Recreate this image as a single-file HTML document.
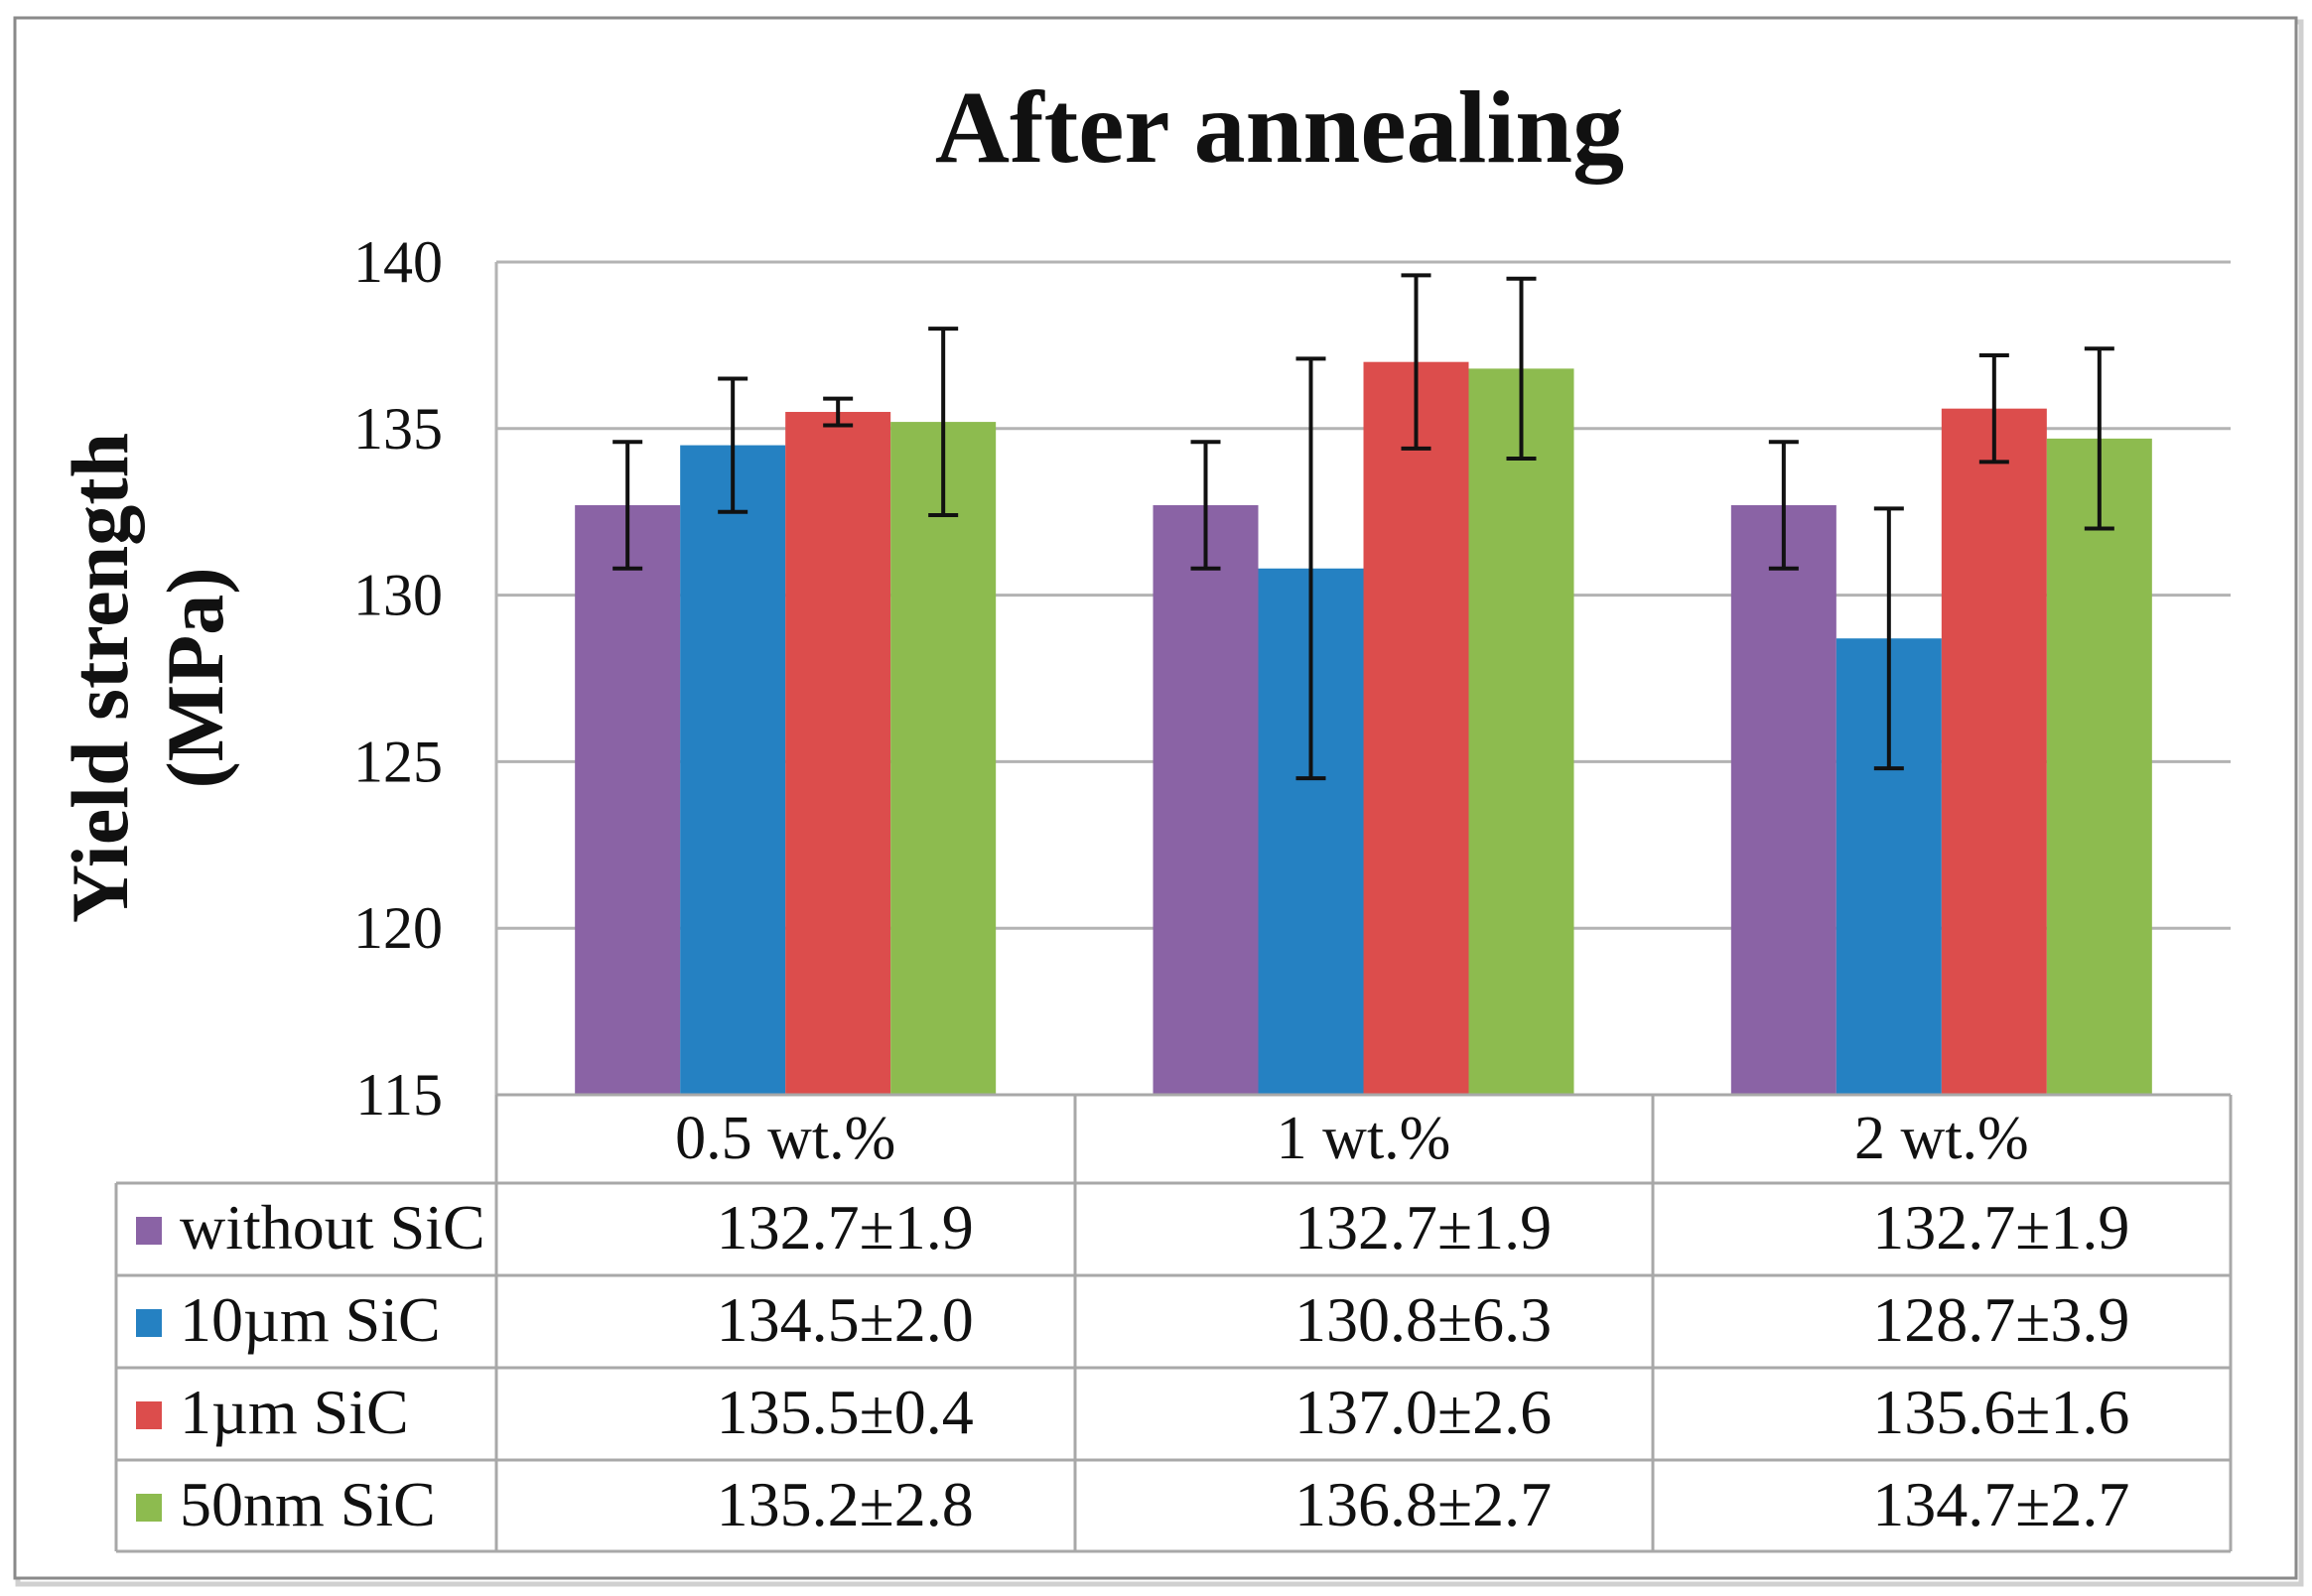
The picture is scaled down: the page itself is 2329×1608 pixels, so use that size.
<!DOCTYPE html>
<html><head><meta charset="utf-8">
<style>
html,body{margin:0;padding:0;background:#fff;}
svg{display:block;}
text{font-family:"Liberation Serif","DejaVu Serif",serif;fill:#111;}
</style></head>
<body>
<svg id="chart" width="2329" height="1608" viewBox="0 0 2329 1608" xmlns="http://www.w3.org/2000/svg">
  <rect x="18" y="22" width="2300" height="1574" fill="none" stroke="#d0d0d0" stroke-width="5"/>
  <rect x="15" y="18" width="2298" height="1572" fill="#fff" stroke="#8a8a8a" stroke-width="3"/>
  <text x="1289" y="163" font-size="104" font-weight="bold" text-anchor="middle">After annealing</text>
  <g transform="translate(104,683) rotate(-90)">
    <text x="0" y="24" font-size="82" font-weight="bold" text-anchor="middle">Yield strength</text>
  </g>
  <g transform="translate(200,683) rotate(-90)">
    <text x="0" y="24" font-size="82" font-weight="bold" text-anchor="middle">(MPa)</text>
  </g>
  <g id="grid"></g>
  <g id="bars"></g>
  <g id="errs"></g>
  <g id="table"></g>
</svg>
<script>
const categories = ["0.5 wt.%", "1 wt.%", "2 wt.%"];
const seriesNames = ["without SiC", "10\u00b5m SiC", "1\u00b5m SiC", "50nm SiC"];
const seriesColors = ["#8a63a5", "#2581c2", "#dc4d4c", "#8dbb4f"];
const withoutSiC = [132.7, 132.7, 132.7];
const withoutSiCErr = [1.9, 1.9, 1.9];
const sic10um = [134.5, 130.8, 128.7];
const sic10umErr = [2.0, 6.3, 3.9];
const sic1um = [135.5, 137.0, 135.6];
const sic1umErr = [0.4, 2.6, 1.6];
const sic50nm = [135.2, 136.8, 134.7];
const sic50nmErr = [2.8, 2.7, 2.7];
const yTicks = [115, 120, 125, 130, 135, 140];

const values = [withoutSiC, sic10um, sic1um, sic50nm];
const errors = [withoutSiCErr, sic10umErr, sic1umErr, sic50nmErr];
const NS = "http://www.w3.org/2000/svg";
const L = 500, R = 2247, T = 264, B = 1103, yMin = 115, yMax = 140;
const catW = (R - L) / categories.length;
const barW = 106;
function y(v){ return B - (v - yMin) / (yMax - yMin) * (B - T); }
function xCat(i){ return L + catW * i; }
function mk(tag, attrs, parent){
  const e = document.createElementNS(NS, tag);
  for (const k in attrs) e.setAttribute(k, attrs[k]);
  parent.appendChild(e); return e;
}
const grid = document.getElementById('grid');
yTicks.forEach(t => {
  const ln = mk('line', {x1:L, x2:R, y1:y(t), y2:y(t), stroke:'#b3b3b3', 'stroke-width':3}, grid);
  
  
  const tx = mk('text', {x:446, y:y(t)+20, 'font-size':60, 'text-anchor':'end'}, grid);
  tx.textContent = t;
  
  
});
const vax = mk('line', {x1:L, x2:L, y1:T, y2:B, stroke:'#b3b3b3', 'stroke-width':3}, grid);



const bars = document.getElementById('bars');
const errs = document.getElementById('errs');
categories.forEach((c, i) => {
  const start = xCat(i) + (catW - barW * 4) / 2;
  values.forEach((s, j) => {
    const x0 = start + j * barW;
    const r = mk('rect', {x:x0, y:y(s[i]), width:barW, height:B - y(s[i]), fill:seriesColors[j]}, bars);
    
    
    const cx = x0 + barW / 2, hi = y(s[i] + errors[j][i]), lo = y(s[i] - errors[j][i]);
    const g = mk('g', {stroke:'#111', 'stroke-width':4}, errs);
    
    
    mk('line', {x1:cx, x2:cx, y1:hi, y2:lo}, g);
    mk('line', {x1:cx-15, x2:cx+15, y1:hi, y2:hi}, g);
    mk('line', {x1:cx-15, x2:cx+15, y1:lo, y2:lo}, g);
  });
});

const tbl = document.getElementById('table');
const rowY = [1103, 1192, 1285, 1378, 1471, 1563];
const colX = [117, 500, 1083, 1665, 2247];
const st = {stroke:'#a8a8a8', 'stroke-width':3};
rowY.forEach((ry, k) => {
  const ln = mk('line', Object.assign({x1: k === 0 ? L : colX[0], x2: R, y1: ry, y2: ry}, st), tbl);
  
  
});
colX.forEach((cx, k) => {
  const ln = mk('line', Object.assign({x1: cx, x2: cx, y1: k === 0 ? rowY[1] : rowY[0], y2: rowY[5]}, st), tbl);
  
  
});
categories.forEach((c, i) => {
  const t = mk('text', {x:xCat(i) + catW/2, y:rowY[0] + 64, 'font-size':62, 'text-anchor':'middle'}, tbl);
  t.textContent = c;
  
  
});
seriesNames.forEach((n, j) => {
  const yy = rowY[j+1];
  const k = mk('rect', {x:137, y:yy + 34, width:26, height:28, fill:seriesColors[j]}, tbl);
  
  
  const t = mk('text', {x:181, y:yy + 66, 'font-size':64}, tbl);
  t.textContent = n;
  
  
  categories.forEach((c, i) => {
    const v = mk('text', {x:xCat(i) + catW/2 + 60, y:yy + 66, 'font-size':64, 'text-anchor':'middle'}, tbl);
    v.textContent = values[j][i].toFixed(1) + '\u00b1' + errors[j][i].toFixed(1);
    
    
  });
});
</script>
</body></html>
